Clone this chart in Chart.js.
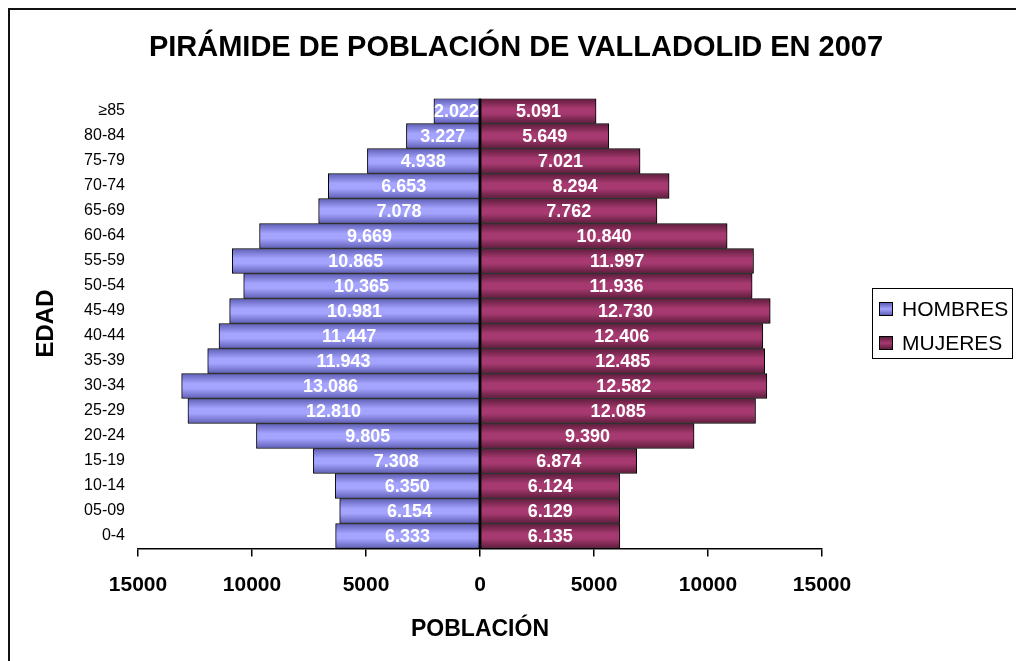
<!DOCTYPE html>
<html>
<head>
<meta charset="utf-8">
<script src="https://cdn.jsdelivr.net/npm/chart.js@4"></script>
<style>
  html, body { margin: 0; padding: 0; background: #fff; overflow: hidden; }
  #c { display: block; }
</style>
</head>
<body>
<canvas id="c" width="1016" height="661"></canvas>
<script>
const categories = ['≥85','80-84','75-79','70-74','65-69','60-64','55-59','50-54','45-49','40-44','35-39','30-34','25-29','20-24','15-19','10-14','05-09','0-4'];
const hombres = [2022, 3227, 4938, 6653, 7078, 9669, 10865, 10365, 10981, 11447, 11943, 13086, 12810, 9805, 7308, 6350, 6154, 6333];
const mujeres = [5091, 5649, 7021, 8294, 7762, 10840, 11997, 11936, 12730, 12406, 12485, 12582, 12085, 9390, 6874, 6124, 6129, 6135];
const xTicks = [-15000, -10000, -5000, 0, 5000, 10000, 15000];
const seriesNames = ['HOMBRES', 'MUJERES'];

const FONT = '"Liberation Sans", Arial, sans-serif';
const palettes = [
  { dark: '#5e5eb4', light: '#a4a4ff', mid: '#9999ff' },
  { dark: '#5e1c3c', light: '#a63a70', mid: '#993366' }
];

function fmt(n) {
  return String(Math.abs(n)).replace(/\B(?=(\d{3})+(?!\d))/g, '.');
}

function gradFill(di) {
  return function (ctx) {
    const chart = ctx.chart;
    const p = palettes[di];
    const ys = chart.scales && chart.scales.y;
    if (!ys || !chart.chartArea || ctx.dataIndex === undefined) return p.mid;
    const yc = ys.getPixelForValue(ctx.dataIndex);
    const h = (chart.chartArea.bottom - chart.chartArea.top) / categories.length / 2;
    const g = chart.ctx.createLinearGradient(0, yc - h, 0, yc + h);
    g.addColorStop(0, p.dark);
    g.addColorStop(0.4, p.light);
    g.addColorStop(0.6, p.light);
    g.addColorStop(1, p.dark);
    return g;
  };
}

const frame = {
  id: 'frame',
  beforeDraw(chart) {
    const ctx = chart.ctx;
    ctx.save();
    ctx.fillStyle = '#fff';
    ctx.fillRect(0, 0, chart.width, chart.height);
    ctx.strokeStyle = '#111';
    ctx.lineWidth = 2;
    ctx.beginPath();
    ctx.moveTo(9, chart.height + 2);
    ctx.lineTo(9, 9);
    ctx.lineTo(chart.width + 2, 9);
    ctx.stroke();
    ctx.restore();
  }
};

const zeroAxis = {
  id: 'zeroAxis',
  afterDatasetsDraw(chart) {
    const ctx = chart.ctx;
    const x0 = chart.scales.x.getPixelForValue(0);
    const a = chart.chartArea;
    ctx.save();
    ctx.strokeStyle = '#000';
    ctx.lineWidth = 2;
    ctx.beginPath();
    ctx.moveTo(x0, a.top);
    ctx.lineTo(x0, a.bottom);
    ctx.stroke();
    ctx.restore();
  }
};

const valueLabels = {
  id: 'valueLabels',
  afterDatasetsDraw(chart) {
    const ctx = chart.ctx;
    ctx.save();
    ctx.fillStyle = '#ffffff';
    ctx.font = 'bold 18px ' + FONT;
    ctx.textAlign = 'center';
    ctx.textBaseline = 'middle';
    chart.data.datasets.forEach((ds, di) => {
      const meta = chart.getDatasetMeta(di);
      meta.data.forEach((el, i) => {
        const { x, y, base } = el.getProps(['x', 'y', 'base'], true);
        ctx.fillText(fmt(ds.data[i]), (x + base) / 2, y + 1);
      });
    });
    ctx.restore();
  }
};

const boxLegend = {
  id: 'boxLegend',
  afterDraw(chart) {
    const ctx = chart.ctx;
    ctx.save();
    const bx = 872.5, by = 288.5, bw = 140, bh = 70;
    ctx.strokeStyle = '#000';
    ctx.lineWidth = 1;
    ctx.strokeRect(bx, by, bw, bh);
    ctx.font = '21px ' + FONT;
    ctx.textBaseline = 'middle';
    ctx.textAlign = 'left';
    const rows = [309, 343];
    chart.data.datasets.forEach((ds, di) => {
      const cy = rows[di];
      const p = palettes[di];
      const g = ctx.createLinearGradient(0, cy - 6, 0, cy + 6);
      g.addColorStop(0, p.dark);
      g.addColorStop(0.5, p.light);
      g.addColorStop(1, p.dark);
      ctx.fillStyle = g;
      ctx.fillRect(879.5, cy - 6.5, 13, 13);
      ctx.strokeRect(879.5, cy - 6.5, 13, 13);
      ctx.fillStyle = '#000';
      ctx.fillText(ds.label, 902, cy + 1);
    });
    ctx.restore();
  }
};

new Chart(document.getElementById('c'), {
  type: 'bar',
  data: {
    labels: categories,
    datasets: [
      { label: seriesNames[0], data: hombres.map(v => -v), backgroundColor: gradFill(0), borderColor: '#000', borderWidth: 1, borderSkipped: false, barPercentage: 1, categoryPercentage: 1 },
      { label: seriesNames[1], data: mujeres, backgroundColor: gradFill(1), borderColor: '#000', borderWidth: 1, borderSkipped: false, barPercentage: 1, categoryPercentage: 1 }
    ]
  },
  options: {
    indexAxis: 'y',
    responsive: false,
    devicePixelRatio: 1,
    animation: false,
    layout: { padding: { left: 16, right: 0, top: 0, bottom: 0 } },
    plugins: {
      legend: { display: false },
      tooltip: { enabled: false },
      title: {
        display: true,
        text: 'PIRÁMIDE DE POBLACIÓN DE VALLADOLID EN 2007',
        color: '#000',
        font: { family: FONT, size: 29, weight: 'bold', lineHeight: 1.2 },
        padding: { top: 30.6, bottom: 33.1 }
      }
    },
    scales: {
      x: {
        stacked: true,
        min: -15000,
        max: 15000,
        afterBuildTicks(scale) { scale.ticks = xTicks.map(v => ({ value: v })); },
        afterFit(scale) { scale.height = 112.5; },
        border: { display: true, color: '#000', width: 1.5 },
        grid: { display: true, drawOnChartArea: false, drawTicks: true, tickLength: 8, color: '#000', lineWidth: 1.5 },
        ticks: {
          color: '#000',
          font: { family: FONT, size: 21, weight: 'bold', lineHeight: 1.2 },
          padding: 15.9,
          maxRotation: 0,
          autoSkip: false,
          callback: (v) => String(Math.abs(v))
        },
        title: {
          display: true,
          text: 'POBLACIÓN',
          color: '#000',
          font: { family: FONT, size: 23, weight: 'bold', lineHeight: 1.2 },
          padding: { top: 0, bottom: 17.2 }
        }
      },
      y: {
        stacked: true,
        afterFit(scale) { scale.width = 122; },
        border: { display: false },
        grid: { display: false, drawTicks: false },
        ticks: {
          color: '#000',
          font: { family: FONT, size: 16 },
          padding: 13,
          autoSkip: false
        },
        title: {
          display: true,
          text: 'EDAD',
          color: '#000',
          font: { family: FONT, size: 24, weight: 'bold', lineHeight: 1.2 },
          padding: { top: 15.6, bottom: 0 }
        }
      },
      yR: {
        type: 'linear',
        axis: 'y',
        position: 'right',
        display: true,
        afterFit(scale) { scale.width = 194; },
        border: { display: false },
        grid: { display: false, drawTicks: false },
        ticks: { display: false }
      }
    }
  },
  plugins: [frame, zeroAxis, valueLabels, boxLegend]
});
</script>
</body>
</html>
